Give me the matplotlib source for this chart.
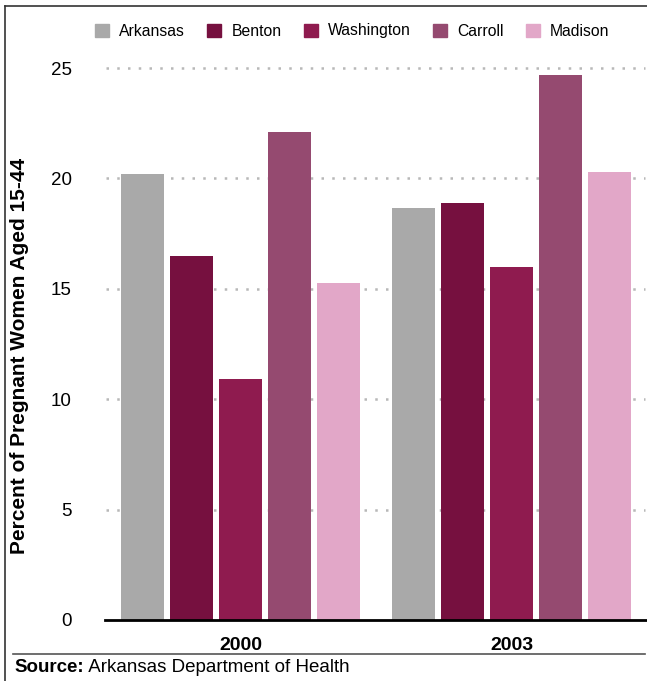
import numpy as np
import matplotlib
matplotlib.use("Agg")
import matplotlib.pyplot as plt
import matplotlib.patches as mpatches
from matplotlib.lines import Line2D

# data
years = ['2000', '2003']
counties = ['Arkansas', 'Benton', 'Washington', 'Carroll', 'Madison']
values = {
	'Arkansas':   [20.2, 18.65],
	'Benton':     [16.5, 18.9],
	'Washington': [10.9, 16.0],
	'Carroll':    [22.1, 24.7],
	'Madison':    [15.25, 20.3],
}
colors = ['#a9a9a9', '#76103f', '#8f1b4f', '#954a70', '#e2a7c8']
yticks = [0, 5, 10, 15, 20, 25]

plt.rcParams['font.family'] = ['Liberation Sans', 'DejaVu Sans']

W, H = 647, 681
fig = plt.figure(figsize=(W / 100, H / 100), dpi=100)

ax = fig.add_axes([105 / W, (H - 620) / H, (W - 105) / W, 574 / H])

x = np.arange(len(years))
pitch = 0.1813
width = 0.158

for i, c in enumerate(counties):
	ax.bar(x + (i - 2) * pitch, values[c], width=width, color=colors[i], zorder=3)

ax.set_xlim(-0.5, 1.5)
ax.set_ylim(0, 26)

# dotted grid
for t in yticks[1:]:
	ax.axhline(t, xmin=0.002, xmax=0.996, color='#b8b8b8', lw=1.8,
		linestyle=(0, (1, 3.3)), zorder=1)

for s in ['left', 'top', 'right']:
	ax.spines[s].set_visible(False)
ax.spines['bottom'].set_linewidth(2)
ax.spines['bottom'].set_color('black')
ax.spines['bottom'].set_zorder(4)

ax.set_yticks(yticks)
ax.set_yticklabels([str(t) for t in yticks], fontsize=13.5)
ax.tick_params(axis='y', length=0, pad=24)
ax.set_xticks(x)
ax.set_xticklabels(years, fontsize=14, fontweight='bold')
ax.tick_params(axis='x', length=0, pad=12)

fig.text(20 / W, (H - 356) / H, 'Percent of Pregnant Women Aged 15-44',
	rotation=90, ha='center', va='center', fontsize=15, fontweight='bold')

# legend
handles = [mpatches.Patch(color=colors[i], label=c) for i, c in enumerate(counties)]
fig.legend(handles=handles, loc='center left', bbox_to_anchor=(95 / W, 1 - 31 / H),
	ncol=5, frameon=False, fontsize=11.3, handlelength=0.9, handleheight=0.9,
	handletextpad=0.65, columnspacing=1.4, borderpad=0, borderaxespad=0)

# source
t1 = fig.text(14 / W, 1 - 667 / H, 'Source:', fontsize=13.5, fontweight='bold',
	ha='left', va='center')
ax.annotate(' Arkansas Department of Health', xy=(1, 0.5), xycoords=t1,
	fontsize=13.5, ha='left', va='center', annotation_clip=False)

# frame lines
fig.add_artist(Line2D([5 / W, 5 / W], [0, 1 - 6 / H], color='#333333', lw=1.2))
fig.add_artist(Line2D([5 / W, 1], [1 - 6 / H, 1 - 6 / H], color='#333333', lw=1.2))
fig.add_artist(Line2D([13 / W, 645 / W], [1 - 654 / H, 1 - 654 / H], color='#555555', lw=1.2))

fig.savefig('out.png', dpi=100)
